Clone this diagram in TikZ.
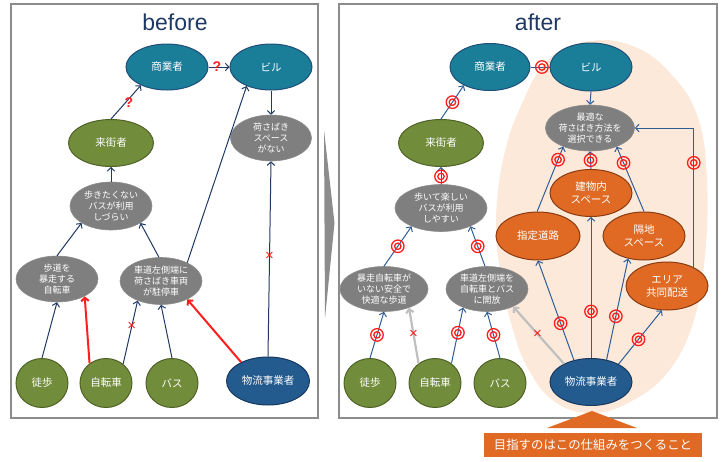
\documentclass[tikz,border=0pt]{standalone}
\usepackage{fontspec}
\setmainfont{Liberation Sans}
\newfontfamily\jp{Noto Sans CJK JP}
\usetikzlibrary{shapes.geometric,arrows.meta}
\definecolor{cnavy}{HTML}{1F3864}
\definecolor{carrow}{HTML}{2F5D96}
\definecolor{cteal}{HTML}{1A7E99}
\definecolor{cborder}{HTML}{1F4E79}
\definecolor{cgreen}{HTML}{718C3A}
\definecolor{cgreenb}{HTML}{4F6228}
\definecolor{cgray}{HTML}{7F7F7F}
\definecolor{cgrayb}{HTML}{8C8C8C}
\definecolor{cblue}{HTML}{235B8F}
\definecolor{cblueb}{HTML}{17375E}
\definecolor{corange}{HTML}{E06A24}
\definecolor{corangeb}{HTML}{8A3B12}
\definecolor{cpeach}{HTML}{FCE9DA}
\definecolor{cred}{HTML}{FF1E1E}
\definecolor{clgray}{HTML}{BFBFBF}
\definecolor{cframe}{HTML}{8C8C8C}
\begin{document}
\begin{tikzpicture}[x=1pt,y=-1pt,
  ell/.style={ellipse, inner sep=0pt, line width=1pt, text=white, align=center},
  nm/.style={font=\jp\fontsize{10.5}{13}\selectfont},
  ds/.style={font=\jp\fontsize{9}{11.2}\selectfont},
  tealnode/.style={ell,nm,fill=cteal,draw=cborder,minimum width=82pt,minimum height=46pt},
  greennode/.style={ell,nm,fill=cgreen,draw=cgreenb},
  graynode/.style={ell,ds,fill=cgray,draw=cgrayb,line width=0.6pt},
  bluenode/.style={ell,nm,fill=cblue,draw=cblueb,minimum width=83pt,minimum height=48pt},
  orangenode/.style={ell,nm,fill=corange,draw=corangeb,minimum width=82pt,minimum height=48pt},
  circnode/.style={greennode,minimum width=52pt,minimum height=49pt},
  tip/.style={-{Straight Barb[length=3.5pt,width=7.5pt]}},
  narr/.style={tip,draw=cnavy,line width=1pt},
  barr/.style={tip,draw=carrow,line width=1pt},
  rarr/.style={tip,draw=cred,line width=2pt},
  garr/.style={tip,draw=clgray,line width=2.2pt},
  dbl/.style={circle,draw=cred,line width=1.3pt,minimum size=12.5pt,inner sep=0pt,
    path picture={\draw[cred,line width=1.3pt] (path picture bounding box.center) circle (3.2pt);}},
  xm/.style={text=cred,font=\fontsize{15}{15}\selectfont,inner sep=0pt},
  qm/.style={text=cred,font=\fontsize{14}{14}\selectfont\bfseries,inner sep=0pt},
  ttl/.style={text=cnavy,font=\fontsize{23}{23}\selectfont}
]
\useasboundingbox (0,0) rectangle (726,461);
% frames
\draw[cframe,line width=1.6pt] (11,4) rectangle (318,418);
\draw[cframe,line width=1.6pt] (339,4) rectangle (717,418);
\fill[cgrayb] (324,130) -- (334.5,223) -- (325,318) -- cycle;
% peach area
\fill[cpeach] plot[smooth cycle,tension=0.7] coordinates {(590,41) (635,47) (672,75) (698,118) (707,180) (705,255) (694,320) (668,372) (628,403) (590,413) (555,402) (530,372) (513,330) (500,270) (496,220) (503,160) (520,108) (548,60)};
% titles
\node[ttl] (tb) at (175,22) {before};
\node[ttl] (ta) at (538,22) {after};
% ---------- before ----------
\node[tealnode] (S1) at (167,67) {商業者};
\node[tealnode] (B1) at (271,67) {ビル};
\node[graynode,minimum width=81pt,minimum height=46pt] (N1) at (271,138) {荷さばき\\スペース\\がない};
\node[greennode,minimum width=85pt,minimum height=47pt] (L1) at (111,143) {来街者};
\node[graynode,minimum width=82pt,minimum height=48pt] (A1) at (111,206) {歩きたくない\\バスが利用\\しづらい};
\node[graynode,minimum width=82pt,minimum height=46pt] (H1) at (57,279) {歩道を\\暴走する\\自転車};
\node[graynode,minimum width=82pt,minimum height=47pt] (C1) at (161,281) {車道左側端に\\荷さばき車両\\が駐停車};
\node[circnode] (T1) at (42,383) {徒歩};
\node[circnode] (J1) at (106,383) {自転車};
\node[circnode] (K1) at (172,383) {バス};
\node[bluenode] (P1) at (268,381) {物流事業者};

\draw[narr] (L1.north) -- node[qm,pos=0.5,xshift=3pt]{?} (S1.215);
\draw[narr] (S1.east) -- node[qm,pos=0.4]{?} (B1.west);
\draw[narr] (B1.south) -- (N1.north);
\draw[narr] (A1.north) -- (L1.south);
\draw[narr] (H1.north) -- (A1.210);
\draw[narr] (C1.95) -- (A1.330);
\draw[narr] (C1.35) -- (B1.218);
\draw[narr] (P1.north) -- node[xm,pos=0.515]{×} (N1.south);
\draw[narr] (T1.north) -- (H1.south);
\draw[rarr] (J1.130) -- (H1.328);
\draw[narr] (J1.48) -- node[xm,pos=0.6]{×} (C1.220);
\draw[narr] (K1.north) -- (C1.south);
\draw[rarr] (P1.145) -- (C1.325);
% ---------- after ----------
\node[tealnode,minimum width=80pt,minimum height=47pt] (S2) at (490,67) {商業者};
\node[tealnode,minimum width=82pt,minimum height=48pt] (B2) at (591,67) {ビル};
\node[graynode,minimum width=82pt,minimum height=46pt] (O2) at (590,128) {最適な\\荷さばき方法を\\選択できる};
\node[greennode,minimum width=85pt,minimum height=47pt] (L2) at (441,143) {来街者};
\node[graynode,minimum width=92pt,minimum height=47pt] (A2) at (441,208) {歩いて楽しい\\バスが利用\\しやすい};
\node[graynode,minimum width=88pt,minimum height=45pt] (H2) at (384,289) {暴走自転車が\\いない安全で\\快適な歩道};
\node[graynode,minimum width=82pt,minimum height=45pt] (C2) at (487,289) {車道左側端を\\自転車とバス\\に開放};
\node[orangenode,minimum height=47pt] (I2) at (591,193) {建物内\\スペース};
\node[orangenode,minimum width=84pt] (D2) at (538,236) {指定道路};
\node[orangenode] (G2) at (644,236) {隔地\\スペース};
\node[orangenode] (E2) at (667,286) {エリア\\共同配送};
\node[circnode] (T2) at (370,383) {徒歩};
\node[circnode] (J2) at (435,383) {自転車};
\node[circnode] (K2) at (500,383) {バス};
\node[bluenode,minimum width=82pt,minimum height=47pt] (P2) at (591,382) {物流事業者};

\draw[carrow,line width=1pt] (S2.east) -- node[dbl,pos=0.6]{} (B2.west);
\draw[barr] (L2.north) -- node[dbl,pos=0.5]{} (S2.215);
\draw[barr] (B2.south) -- (O2.north);
\draw[barr] (A2.north) -- node[dbl,pos=0.45]{} (L2.south);
\draw[barr] (H2.north) -- node[dbl,pos=0.5]{} (A2.212);
\draw[barr] (C2.95) -- node[dbl,pos=0.5]{} (A2.328);
\draw[barr] (T2.north) -- node[dbl,pos=0.5]{} (H2.south);
\draw[garr] (J2.130) -- node[xm,pos=0.53]{×} (H2.323);
\draw[barr] (J2.50) -- node[dbl,pos=0.55]{} (C2.218);
\draw[barr] (K2.north) -- node[dbl,pos=0.5]{} (C2.south);
\draw[garr] (P2.146) -- node[xm,pos=0.52]{×} (C2.326);
\draw[barr] (D2.92) -- node[dbl,pos=0.8]{} (O2.215);
\draw[barr] (I2.north) -- node[dbl,pos=0.5]{} (O2.south);
\draw[barr] (G2.north) -- node[dbl,pos=0.75]{} (O2.325);
\draw[barr] (E2.35) |- node[dbl,pos=0.375]{} (O2.east);
\draw[barr] (P2.128) -- node[dbl,pos=0.37]{} (D2.south);
\draw[barr] (P2.north) -- node[dbl,pos=0.33]{} (I2.south);
\draw[barr] (P2.55) -- node[dbl,pos=0.43]{} (G2.235);
\draw[barr] (P2.33) -- node[dbl,pos=0.46]{} (E2.258);
% banner
\fill[corange] (547,428) -- (592,411) -- (637,428) -- cycle;
\node[fill=corange,text=white,font=\jp\fontsize{12.4}{14}\selectfont,minimum width=218pt,minimum height=24pt,inner sep=0pt] (goal) at (593,445) {目指すのはこの仕組みをつくること};
\end{tikzpicture}
\end{document}
